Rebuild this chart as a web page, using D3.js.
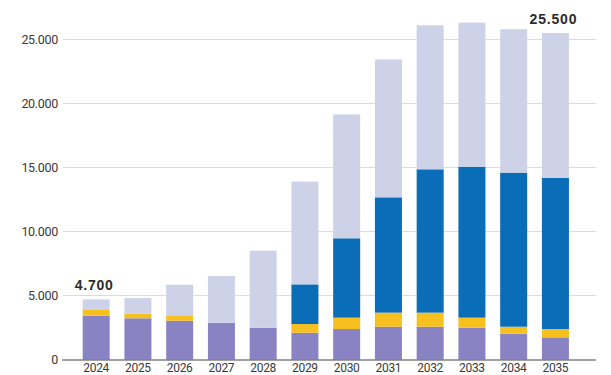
<!DOCTYPE html>
<html>
<head>
<meta charset="utf-8">
<script src="https://cdn.jsdelivr.net/npm/d3@7"></script>
<style>
  html, body { margin: 0; padding: 0; background: #fff; }
  svg { display: block; }
</style>
</head>
<body>
<svg id="chart" width="611" height="375"></svg>
<script>
const years = ["2024","2025","2026","2027","2028","2029","2030","2031","2032","2033","2034","2035"];
const purple = [3420,3220,3030,2870,2480,2090,2380,2560,2560,2480,2020,1730];
const yellow = [450,380,370,0,0,680,890,1100,1100,790,540,650];
const blue   = [0,0,0,0,0,3100,6200,9010,11200,11790,12040,11820];
const light  = [830,1200,2440,3650,6020,8030,9680,10770,11250,11260,11200,11300];
const yTicks = [0,5000,10000,15000,20000,25000];
const annotations = [{year:"2024", text:"4.700"}, {year:"2035", text:"25.500"}];

const seriesKeys = ["purple","yellow","blue","light"];
const colors = {purple:"#8a83c3", yellow:"#f6c01f", blue:"#0a6db8", light:"#cdd2e8"};

const rows = years.map((y,i) => ({year:y, purple:purple[i], yellow:yellow[i], blue:blue[i], light:light[i]}));
const stack = d3.stack().keys(seriesKeys)(rows);

const svg = d3.select("#chart");
const x = d3.scaleBand().domain(years).range([75.3, 576.3]).paddingInner(0.353).paddingOuter(0.1765);
const y = d3.scaleLinear().domain([0, 25000]).range([359.5, 39.5]);

const fontAxis = "'Roboto', 'Liberation Sans', sans-serif";

// grid
const grid = svg.append("g");
grid.selectAll("line").data(yTicks.filter(t => t > 0)).join("line")
  .attr("x1", 63).attr("x2", 596)
  .attr("y1", d => y(d)).attr("y2", d => y(d))
  .attr("stroke", "#dcdcdc").attr("stroke-width", 1);

// y axis labels
const yAxis = d3.axisLeft(y).tickValues(yTicks).tickSize(0).tickPadding(0)
  .tickFormat(d => d3.format(",")(d).replace(/,/g, "."));
svg.append("g").attr("transform", "translate(58,0)").call(yAxis)
  .call(g => g.select(".domain").remove())
  .call(g => g.selectAll("text").attr("font-family", fontAxis).attr("font-size", 12.5)
    .attr("letter-spacing", -0.3).attr("fill", "#3a3a3a"));

// bars
svg.append("g").selectAll("g").data(stack).join("g")
  .attr("fill", d => colors[d.key])
  .selectAll("rect").data(d => d).join("rect")
  .attr("x", d => x(d.data.year))
  .attr("width", x.bandwidth())
  .attr("y", d => y(d[1]))
  .attr("height", d => Math.max(0, y(d[0]) - y(d[1])));

// baseline
svg.append("line").attr("x1", 62).attr("x2", 596)
  .attr("y1", y(0) + 0.5).attr("y2", y(0) + 0.5)
  .attr("stroke", "#444").attr("stroke-width", 1.2);

// x axis labels
const xAxis = d3.axisBottom(x).tickSize(0).tickPadding(0);
svg.append("g").attr("transform", `translate(0,${y(0)})`).call(xAxis)
  .call(g => g.select(".domain").remove())
  .call(g => g.selectAll("text").attr("dy", null).attr("y", 12)
    .attr("font-family", fontAxis).attr("font-size", 12)
    .attr("letter-spacing", -0.3).attr("fill", "#3a3a3a"));

// annotations
const totals = {};
rows.forEach(r => totals[r.year] = r.purple + r.yellow + r.blue + r.light);
svg.append("g").selectAll("text").data(annotations).join("text")
  .attr("x", d => x(d.year) + x.bandwidth() / 2 - 2)
  .attr("y", d => y(totals[d.year]) - 9)
  .attr("text-anchor", "middle")
  .attr("font-family", "'Liberation Sans', Arial, sans-serif")
  .attr("font-weight", "bold")
  .attr("font-size", 14)
  .attr("letter-spacing", 0.8)
  .attr("fill", "#2b2b2b")
  .text(d => d.text);
</script>
</body>
</html>
